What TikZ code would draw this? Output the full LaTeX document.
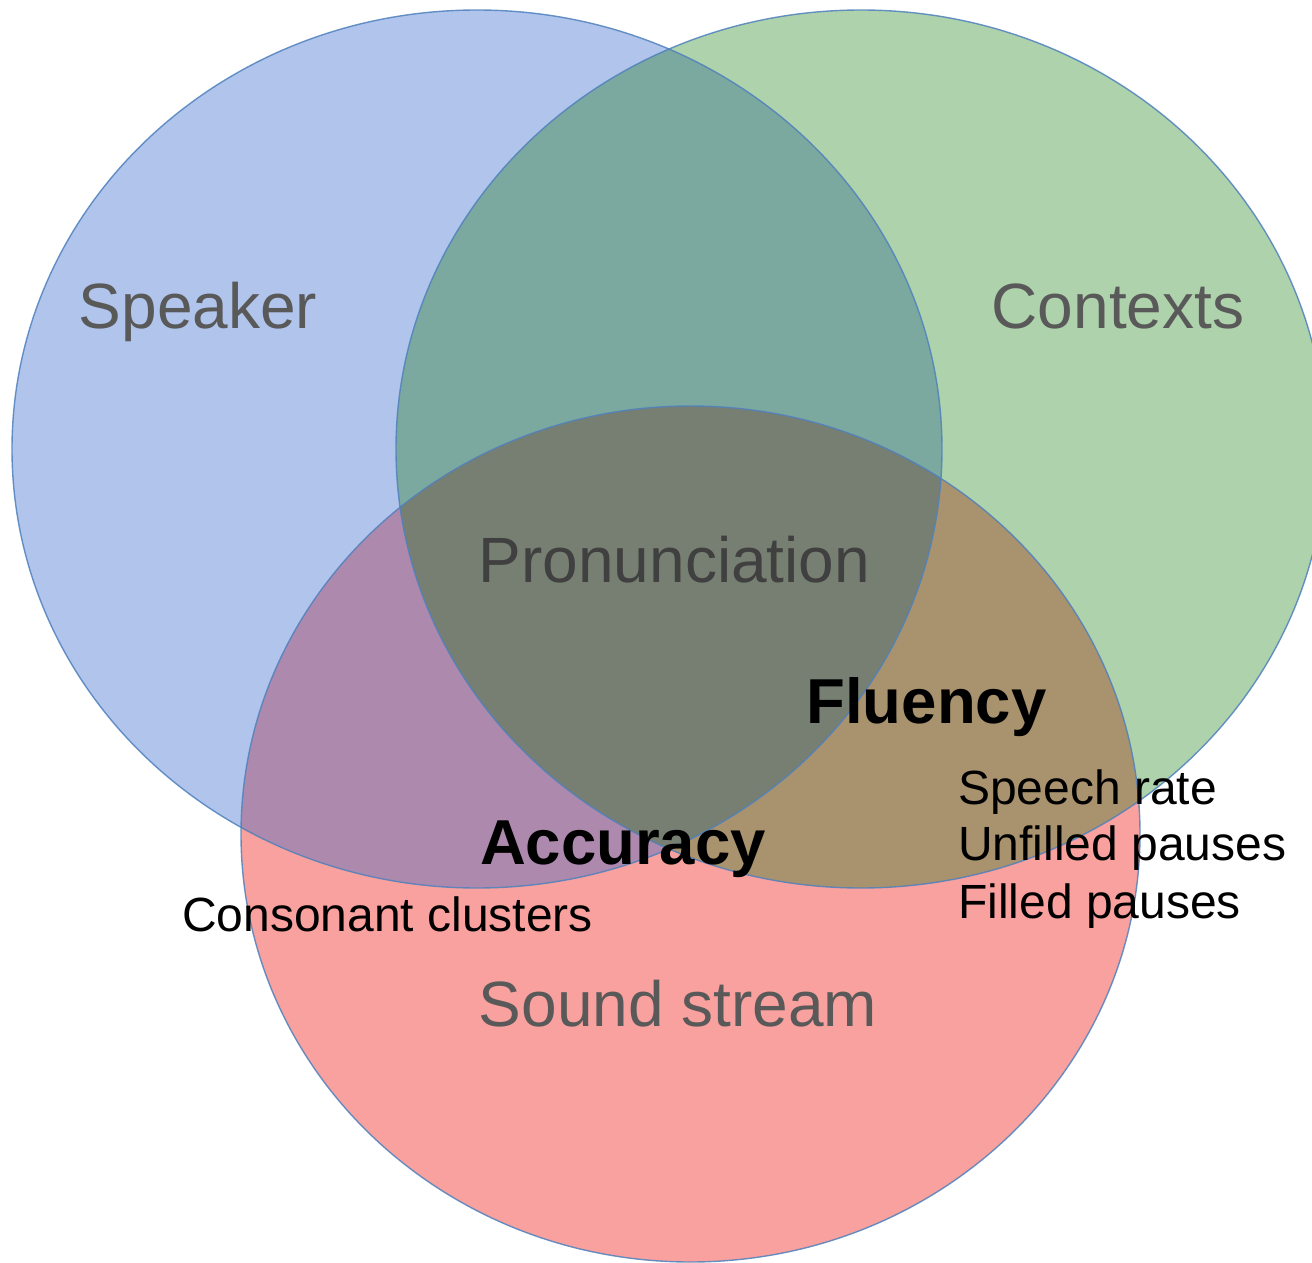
\documentclass[tikz,border=0pt]{standalone}
\usepackage{fontspec}
\setmainfont{Liberation Sans}
\definecolor{cB}{RGB}{176,196,236}
\definecolor{cG}{RGB}{174,210,172}
\definecolor{cR}{RGB}{248,161,158}
\definecolor{cBG}{RGB}{123,169,160}
\definecolor{cBR}{RGB}{173,138,173}
\definecolor{cGR}{RGB}{169,146,110}
\definecolor{cBGR}{RGB}{118,127,114}
\definecolor{edge}{RGB}{79,129,189}
\definecolor{lab}{RGB}{89,89,89}
\definecolor{labdark}{RGB}{64,64,64}
\tikzset{
  big/.style={font=\fontsize{64}{76}\selectfont, anchor=base, inner sep=0pt},
  cat/.style={big, text=lab},
  dim/.style={font=\fontsize{63.5}{76}\selectfont\bfseries, anchor=base, inner sep=0pt, text=black},
  small/.style={font=\fontsize{48}{57}\selectfont, inner sep=0pt, text=black},
  outline/.style={draw=edge, line width=1.4pt, draw opacity=0.85}
}
\def\ellB{(477,449) ellipse [x radius=465pt, y radius=439pt]}
\def\ellG{(861,449) ellipse [x radius=465pt, y radius=439pt]}
\def\ellR{(690.5,834) ellipse [x radius=449.5pt, y radius=428pt]}
\begin{document}
\begin{tikzpicture}[x=1pt,y=-1pt]
\clip (0,0) rectangle (1312,1263);
\fill[white] (0,0) rectangle (1312,1263);
% single regions
\fill[cB] \ellB;
\fill[cG] \ellG;
\fill[cR] \ellR;
% pairwise overlaps
\begin{scope}\clip \ellB; \fill[cBG] \ellG; \end{scope}
\begin{scope}\clip \ellB; \fill[cBR] \ellR; \end{scope}
\begin{scope}\clip \ellG; \fill[cGR] \ellR; \end{scope}
% triple overlap
\begin{scope}\clip \ellB; \clip \ellG; \fill[cBGR] \ellR; \end{scope}
% outlines
\draw[outline] \ellB;
\draw[outline] \ellG;
\draw[outline] \ellR;
% labels
\node[cat] (speaker) at (198,328) {Speaker};
\node[cat] (contexts) at (1118,328) {Contexts};
\node[big, text=labdark] (pron) at (674.5,582) {Pronunciation};
\node[cat] (sound) at (678,1026) {Sound stream};
\node[dim] (fluency) at (926.5,723) {Fluency};
\node[dim] (accuracy) at (623,864) {Accuracy};
\node[small, anchor=base] (cons) at (387.5,931) {Consonant clusters};
\node[small, anchor=base west] (rate) at (958,804) {Speech rate};
\node[small, anchor=base west] (unfilled) at (958,860) {Unfilled pauses};
\node[small, anchor=base west] (filled) at (958,918) {Filled pauses};
\end{tikzpicture}
\end{document}
